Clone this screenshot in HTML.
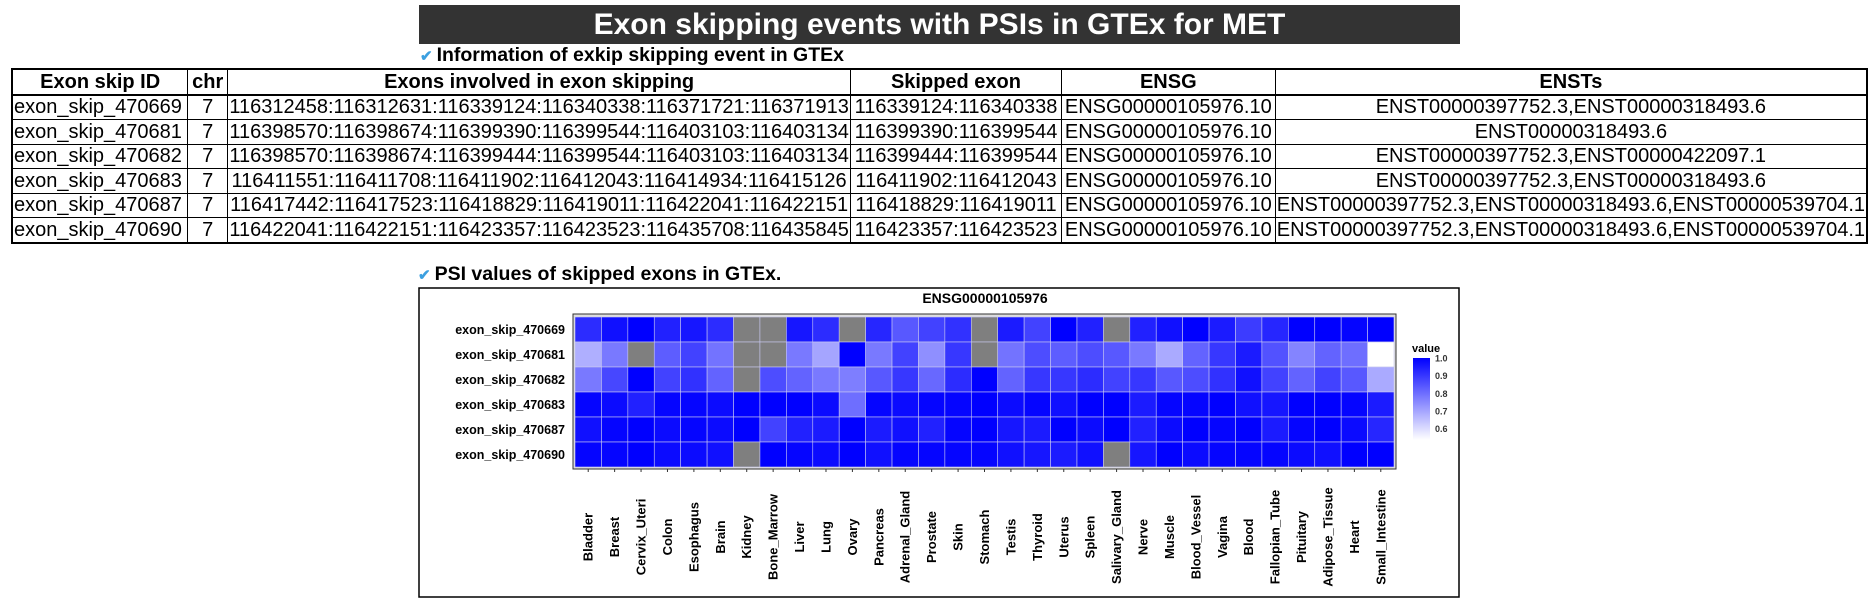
<!DOCTYPE html>
<html><head><meta charset="utf-8"><style>
body{margin:0;width:1876px;height:607px;background:#fff;font-family:"Liberation Sans",Arial,sans-serif;position:relative;overflow:hidden}
#title{position:absolute;left:419px;top:5px;width:1041px;height:39px;background:#333;color:#fff;font-weight:bold;font-size:30px;text-align:center;line-height:39px}
.sub{position:absolute;font-weight:bold;font-size:19.5px;color:#000}
.sub .ck{color:#3ca0e0;font-size:15px;margin-right:4px}
table{position:absolute;left:11px;top:68px;width:1857px;border-collapse:collapse;border:2px solid #000;font-size:20px}
td,th{border:1px solid #000;height:23.5px;padding:0 1px;text-align:center;white-space:nowrap;line-height:22px;overflow:hidden}
th{font-weight:bold;border-bottom:2px solid #000}
td:first-child{text-align:left}
#hm{position:absolute;left:0;top:0}
</style></head><body>
<div id="title">Exon skipping events with PSIs in GTEx for MET</div>
<div class="sub" style="left:420px;top:44px"><span class="ck">✔</span>Information of exkip skipping event in GTEx</div>
<table>
<colgroup><col style="width:176px"><col style="width:40px"><col style="width:623px"><col style="width:211px"><col style="width:214px"><col></colgroup>
<tr><th>Exon skip ID</th><th>chr</th><th>Exons involved in exon skipping</th><th>Skipped exon</th><th>ENSG</th><th>ENSTs</th></tr>
<tr><td>exon_skip_470669</td><td>7</td><td>116312458:116312631:116339124:116340338:116371721:116371913</td><td>116339124:116340338</td><td>ENSG00000105976.10</td><td>ENST00000397752.3,ENST00000318493.6</td></tr>
<tr><td>exon_skip_470681</td><td>7</td><td>116398570:116398674:116399390:116399544:116403103:116403134</td><td>116399390:116399544</td><td>ENSG00000105976.10</td><td>ENST00000318493.6</td></tr>
<tr><td>exon_skip_470682</td><td>7</td><td>116398570:116398674:116399444:116399544:116403103:116403134</td><td>116399444:116399544</td><td>ENSG00000105976.10</td><td>ENST00000397752.3,ENST00000422097.1</td></tr>
<tr><td>exon_skip_470683</td><td>7</td><td>116411551:116411708:116411902:116412043:116414934:116415126</td><td>116411902:116412043</td><td>ENSG00000105976.10</td><td>ENST00000397752.3,ENST00000318493.6</td></tr>
<tr><td>exon_skip_470687</td><td>7</td><td>116417442:116417523:116418829:116419011:116422041:116422151</td><td>116418829:116419011</td><td>ENSG00000105976.10</td><td>ENST00000397752.3,ENST00000318493.6,ENST00000539704.1</td></tr>
<tr><td>exon_skip_470690</td><td>7</td><td>116422041:116422151:116423357:116423523:116435708:116435845</td><td>116423357:116423523</td><td>ENSG00000105976.10</td><td>ENST00000397752.3,ENST00000318493.6,ENST00000539704.1</td></tr>
</table>
<div class="sub" style="left:418px;top:263px"><span class="ck">✔</span>PSI values of skipped exons in GTEx.</div>
<svg id="hm" width="1876" height="607" font-family="Liberation Sans, Arial, sans-serif"></svg>
<script>
const tissues=["Bladder","Breast","Cervix_Uteri","Colon","Esophagus","Brain","Kidney","Bone_Marrow","Liver","Lung","Ovary","Pancreas","Adrenal_Gland","Prostate","Skin","Stomach","Testis","Thyroid","Uterus","Spleen","Salivary_Gland","Nerve","Muscle","Blood_Vessel","Vagina","Blood","Fallopian_Tube","Pituitary","Adipose_Tissue","Heart","Small_Intestine"];
const events=["exon_skip_470669","exon_skip_470681","exon_skip_470682","exon_skip_470683","exon_skip_470687","exon_skip_470690"];
const psi669=[0.92,0.97,1.0,0.94,0.96,0.92,null,null,0.96,0.92,null,0.93,0.84,0.88,0.91,null,0.95,0.88,1.0,0.94,null,0.94,0.97,1.0,0.95,0.89,0.93,1.0,1.0,0.99,1.0];
const psi681=[0.68,0.78,null,0.83,0.88,0.79,null,null,0.78,0.70,1.0,0.78,0.88,0.74,0.9,null,0.79,0.86,0.83,0.86,0.84,0.78,0.69,0.82,0.9,0.95,0.85,0.76,0.82,0.8,0.535];
const psi682=[0.78,0.87,1.0,0.88,0.91,0.82,null,0.86,0.82,0.78,0.77,0.84,0.9,0.81,0.92,1.0,0.82,0.9,0.9,0.92,0.88,0.9,0.84,0.86,0.91,0.97,0.88,0.82,0.88,0.84,0.69];
const psi683=[0.99,0.98,0.94,0.99,0.99,0.98,1.0,1.0,1.0,0.98,0.8,0.99,0.98,0.99,0.99,1.0,0.98,0.99,0.97,1.0,1.0,0.95,0.99,0.99,1.0,0.97,0.96,1.0,1.0,0.99,0.95];
const psi687=[0.97,0.99,1.0,0.98,0.99,0.98,1.0,0.88,0.94,0.95,1.0,0.95,0.97,0.94,0.99,1.0,0.96,0.95,1.0,0.98,1.0,0.94,0.98,1.0,0.99,1.0,0.95,0.99,1.0,0.98,0.93];
const psi690=[0.99,0.99,1.0,0.98,0.98,0.97,null,1.0,0.99,0.98,1.0,0.97,0.99,0.99,0.99,0.99,0.97,0.96,0.95,0.97,null,0.96,1.0,0.98,0.99,0.99,0.99,0.98,0.97,1.0,1.0];
const legendTicks=[1.0,0.9,0.8,0.7,0.6];
const series=[psi669,psi681,psi682,psi683,psi687,psi690];
const NS="http://www.w3.org/2000/svg";
const svg=document.getElementById('hm');
function mk(t,a,txt){const e=document.createElementNS(NS,t);for(const k in a)e.setAttribute(k,a[k]);if(txt!==undefined)e.textContent=txt;svg.appendChild(e);return e;}
const PX=575,PY=317,PW=819,PH=150,vMin=0.535,vMax=1.0;
const cw=PW/tissues.length,ch=PH/events.length;
const xS=i=>PX+i*cw, yS=j=>PY+j*ch;
function col(v){if(v===null)return '#7f7f7f';let t=(v-vMin)/(vMax-vMin);t=Math.max(0,Math.min(1,t));const c=Math.round(255*(1-t));return `rgb(${c},${c},255)`;}
let e;
e=mk('rect',{x:419,y:288,width:1040,height:309,fill:'#fff',stroke:'#000','stroke-width':1.5});


e=mk('text',{x:985,y:303,'text-anchor':'middle','font-size':14,'font-weight':'bold'},'ENSG00000105976');


e=mk('rect',{x:PX-2,y:PY-3,width:PW+4,height:PH+5,fill:'#ddd',stroke:'#333','stroke-width':1});


series.forEach((arr,j)=>{arr.forEach((v,i)=>{
 e=mk('rect',{x:xS(i),y:yS(j),width:cw,height:ch,fill:col(v),stroke:'#c8c8f0','stroke-width':0.6});
 
 
});
 e=mk('text',{x:565,y:yS(j)+ch/2+4.5,'text-anchor':'end','font-size':12.5,'font-weight':'bold'},events[j]);
 
 
});
tissues.forEach((t,i)=>{
 const cx=xS(i)+cw/2;
 mk('line',{x1:cx,y1:PY+PH+2,x2:cx,y2:PY+PH+5,stroke:'#333'});
 e=mk('text',{x:0,y:0,transform:`translate(${cx+4.5},537) rotate(-90)`,'text-anchor':'middle','font-size':13,'font-weight':'bold'},t);
 
 
});
const defs=mk('defs',{});
const g=document.createElementNS(NS,'linearGradient');g.setAttribute('id','lg');g.setAttribute('x1',0);g.setAttribute('y1',0);g.setAttribute('x2',0);g.setAttribute('y2',1);
[[0,'#0000ff'],[1,'#ffffff']].forEach(s=>{const st=document.createElementNS(NS,'stop');st.setAttribute('offset',s[0]);st.setAttribute('stop-color',s[1]);g.appendChild(st);});
defs.appendChild(g);
e=mk('text',{x:1412,y:352,'font-size':11,'font-weight':'bold'},'value');


const LB=440,LT=358;
const lyS=v=>LB-(v-vMin)/(vMax-vMin)*(LB-LT);
e=mk('rect',{x:1413,y:LT,width:17,height:LB-LT,fill:'url(#lg)'});


legendTicks.forEach(v=>{
 e=mk('text',{x:1435,y:lyS(v)+3.5,'font-size':9,'font-weight':'bold',fill:'#333'},v.toFixed(1));
 
 
});
</script>
</body></html>
